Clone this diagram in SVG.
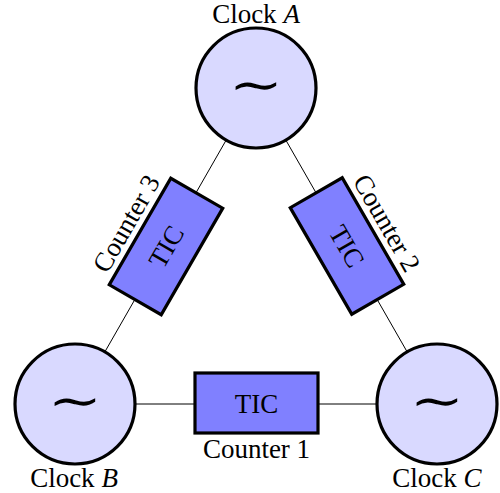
<svg xmlns="http://www.w3.org/2000/svg" width="500" height="493" viewBox="0 0 500 493">
<style>
.clk{fill:#d9d9ff;stroke:#000;stroke-width:3.2}
.box{fill:#8080ff;stroke:#000;stroke-width:3.2}
.ln{stroke:#000;stroke-width:1;fill:none}
.t{font-family:"Liberation Serif","Times New Roman",serif;font-size:27px;fill:#000;text-anchor:middle}
.sim{font-family:"Noto Sans CJK JP","DejaVu Serif",serif;font-weight:300;font-size:48px;fill:#000;text-anchor:middle}
</style>
<rect width="500" height="493" fill="#fff"/>
<g id="connectors">
<line class="ln" x1="256" y1="88" x2="75" y2="404"/>
<line class="ln" x1="256" y1="88" x2="437" y2="404"/>
<line class="ln" x1="75" y1="404" x2="437" y2="404"/>
</g>
<g id="clockA">
<circle class="clk" cx="256" cy="88" r="60"/>
<text class="sim" transform="translate(256,101) scale(1.35,1)">∼</text>
<text class="t" x="256" y="23">Clock <tspan font-style="italic">A</tspan></text>
</g>
<g id="clockB">
<circle class="clk" cx="75" cy="404" r="60"/>
<text class="sim" transform="translate(75,417) scale(1.35,1)">∼</text>
<text class="t" x="74" y="487">Clock <tspan font-style="italic">B</tspan></text>
</g>
<g id="clockC">
<circle class="clk" cx="437" cy="404" r="60"/>
<text class="sim" transform="translate(437,417) scale(1.35,1)">∼</text>
<text class="t" x="437" y="487">Clock <tspan font-style="italic">C</tspan></text>
</g>
<g id="counter1" transform="translate(256.5,403)">
<rect class="box" x="-61.5" y="-30" width="123" height="60"/>
<text class="t" x="0" y="9.5">TIC</text>
<text class="t" x="0" y="55">Counter 1</text>
</g>
<g id="counter3" transform="translate(166,246.5) rotate(-60)">
<rect class="box" x="-61.5" y="-30" width="123" height="60"/>
<text class="t" x="0" y="9.5">TIC</text>
<text class="t" x="0" y="-37">Counter 3</text>
</g>
<g id="counter2" transform="translate(347,246) rotate(60)">
<rect class="box" x="-61.5" y="-30" width="123" height="60"/>
<text class="t" x="0" y="9.5">TIC</text>
<text class="t" x="0" y="-37">Counter 2</text>
</g>
</svg>
